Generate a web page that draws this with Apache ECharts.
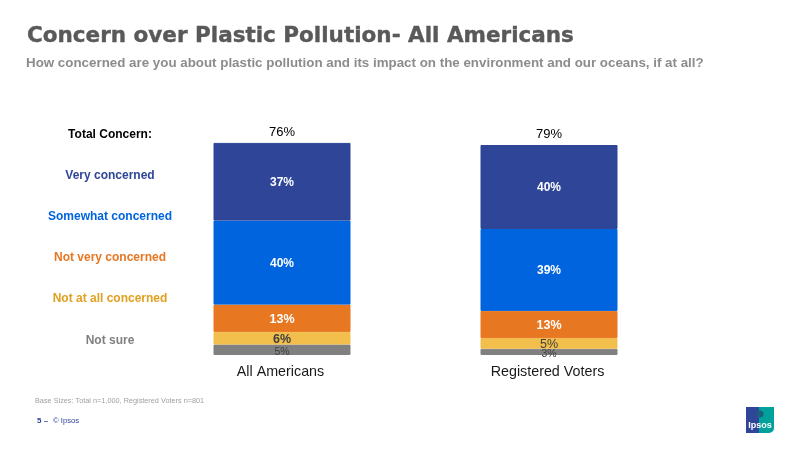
<!DOCTYPE html>
<html><head><meta charset="utf-8">
<style>html,body{margin:0;padding:0;background:#fff}#c{width:800px;height:450px}</style>
<script src="https://cdn.jsdelivr.net/npm/echarts@6/dist/echarts.min.js"></script>
</head><body><div id="c"></div>
<script>
const categories = ['All Americans', 'Registered Voters'];
const notSure = [5, 3];
const notAtAll = [6, 5];
const notVery = [13, 13];
const somewhat = [40, 39];
const very = [37, 40];
const totalConcern = [76, 79];
const legendNames = ['Total Concern:', 'Very concerned', 'Somewhat concerned', 'Not very concerned', 'Not at all concerned', 'Not sure'];
const legendColors = ['#000000', '#2e4598', '#0064df', '#e87722', '#e0a020', '#808080'];
const legendY = [135, 176, 217, 258, 299, 341];
const font = '"Liberation Sans", Arial, sans-serif';

const seg = (name, data, color, label) => ({
  name, type: 'bar', stack: 's', data, barWidth: 137,
  itemStyle: { color, borderColor: color, borderWidth: 1 }, animation: false,
  label: Object.assign({ show: true, position: 'inside', formatter: '{c}%', fontFamily: font, offset: [0, 1] }, label)
});
const chart = echarts.init(document.getElementById('c'), null, { renderer: 'canvas' });
chart.setOption({
  animation: false,
  backgroundColor: '#fff',
  title: [
    { text: 'Concern over Plastic Pollution- All Americans', left: 22, top: 20,
      textStyle: { fontFamily: '"DejaVu Sans"', fontWeight: 'bold', fontSize: 21.5, color: '#595959', textBorderColor: '#595959', textBorderWidth: 0.4 } },
    { text: 'How concerned are you about plastic pollution and its impact on the environment and our oceans, if at all?', left: 21, top: 52,
      textStyle: { fontFamily: font, fontWeight: 'bold', fontSize: 13.35, color: '#8c8c8c' } }
  ],
  grid: { left: 148.5, width: 534, top: 124, height: 231 },
  xAxis: { type: 'category', data: categories, axisLine: { show: false }, axisTick: { show: false },
    axisLabel: { fontFamily: font, fontSize: 14.3, color: '#1a1a1a', margin: 10, padding: [0, 3, 0, 0] } },
  yAxis: { type: 'value', min: 0, max: 110, show: false, splitLine: { show: false } },
  series: [
    seg('Not sure', notSure, '#808080', { color: '#404040', fontSize: 10.5, offset: [0, 2] }),
    seg('Not at all concerned', [notAtAll[0], { value: notAtAll[1], label: { fontWeight: 'normal' } }], '#f2bf4c', { color: '#404040', fontSize: 12.5, fontWeight: 'bold' }),
    seg('Not very concerned', notVery, '#e87722', { color: '#fff', fontSize: 12.5, fontWeight: 'bold' }),
    seg('Somewhat concerned', somewhat, '#0064df', { color: '#fff', fontSize: 12, fontWeight: 'bold' }),
    seg('Very concerned', very, '#2e4598', { color: '#fff', fontSize: 12, fontWeight: 'bold' }),
    { name: 'Total Concern', type: 'bar', stack: 's', data: totalConcern.map(() => 0), barWidth: 137,
      label: { show: true, position: 'top', distance: 4, fontFamily: font, fontSize: 13, color: '#000',
        formatter: p => totalConcern[p.dataIndex] + '%' } }
  ],
  graphic: [
    ...legendNames.map((t, i) => ({ type: 'text', x: 110, y: legendY[i],
      style: { text: t, fill: legendColors[i], font: 'bold 12px ' + font, textAlign: 'center', textVerticalAlign: 'middle' } })),
    { type: 'text', x: 35, y: 401, style: { text: 'Base Sizes: Total n=1,000, Registered Voters n=801', fill: '#a0a0a0', font: '7.3px ' + font, textVerticalAlign: 'middle' } },
    { type: 'text', x: 37, y: 421, style: { text: '5 \u2013', fill: '#2e4598', font: 'bold 8px ' + font, textVerticalAlign: 'middle' } },
    { type: 'text', x: 53, y: 421, style: { text: '\u00a9 Ipsos', fill: '#2e4598', font: '7.7px ' + font, textVerticalAlign: 'middle' } },
    { type: 'rect', shape: { x: 758, y: 407, width: 16, height: 26, r: [0, 0, 5, 0] }, style: { fill: '#00a19a' } },
    { type: 'rect', shape: { x: 746, y: 407, width: 13, height: 26 }, style: { fill: '#2e4598' } },
    { type: 'circle', shape: { cx: 760, cy: 414, r: 3.5 }, style: { fill: '#1b5f80' } },
    { type: 'text', x: 760, y: 426, style: { text: 'Ipsos', fill: '#fff', font: 'bold 9px ' + font, textAlign: 'center', textVerticalAlign: 'middle' } }
  ]
});
</script></body></html>
